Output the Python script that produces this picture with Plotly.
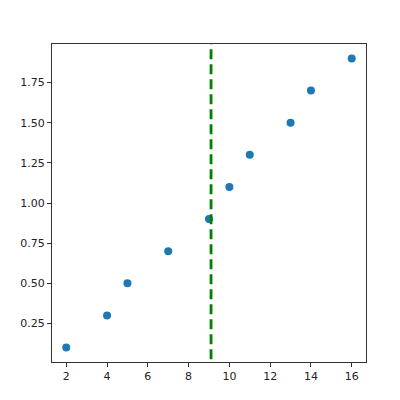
import plotly.graph_objects as go

x_vals = [2, 4, 5, 7, 9, 10, 11, 13, 14, 16]
y_vals = [0.1, 0.3, 0.5, 0.7, 0.9, 1.1, 1.3, 1.5, 1.7, 1.9]
mean_x = sum(x_vals) / len(x_vals)
x_ticks = [2, 4, 6, 8, 10, 12, 14, 16]
y_ticks = [0.25, 0.5, 0.75, 1.0, 1.25, 1.5, 1.75]
y_tick_labels = ["0.25", "0.50", "0.75", "1.00", "1.25", "1.50", "1.75"]

fig = go.Figure()
fig.add_trace(go.Scatter(x=x_vals, y=y_vals, mode="markers",
                         marker=dict(color="#1f77b4", size=8), showlegend=False))
fig.add_trace(go.Scatter(x=[mean_x, mean_x], y=[-1, 3], mode="lines",
                         line=dict(color="#008000", width=2.8, dash="10px,5px"),
                         showlegend=False))

axis_common = dict(showgrid=False, zeroline=False, showline=True, mirror=True,
                   linecolor="#333333", linewidth=1, ticks="outside", ticklen=4,
                   tickcolor="#333333", tickfont=dict(family="DejaVu Sans", size=11, color="#222222"))
fig.update_xaxes(range=[1.3, 16.7], tickvals=x_ticks, **axis_common)
fig.update_yaxes(range=[0.01, 1.99], tickvals=y_ticks, ticktext=y_tick_labels, **axis_common)

fig.update_layout(width=400, height=400, plot_bgcolor="white", paper_bgcolor="white",
                  margin=dict(l=39, r=42, t=36, b=46))
fig.write_html("out.html")
